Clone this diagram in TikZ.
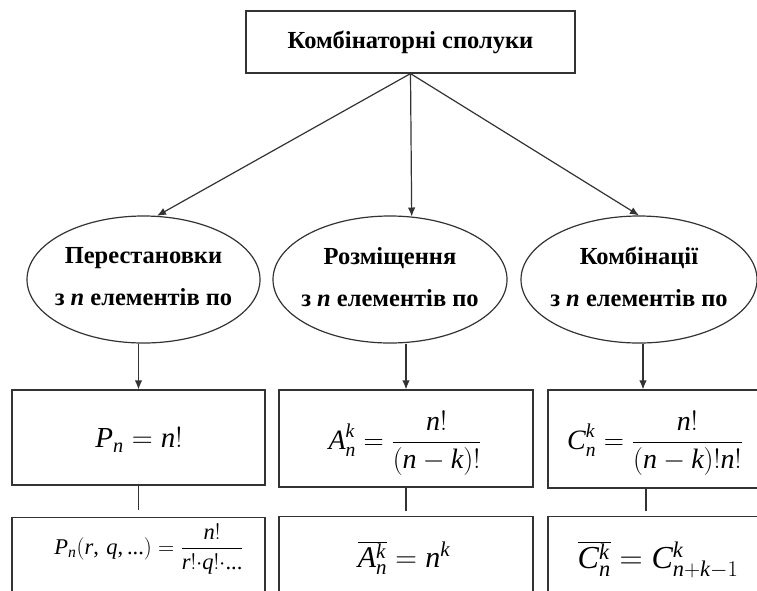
\RequirePackage{fix-cm}
\documentclass[tikz,border=0pt]{standalone}
\usepackage{fontspec}
\setmainfont{Liberation Serif}
\newfontfamily\mathtimes{Liberation Serif}[NFSSFamily=libserif]
\DeclareSymbolFont{letters}{TU}{libserif}{m}{it}
\DeclareSymbolFont{operators}{TU}{libserif}{m}{n}
\mathcode`,="602C
\mathcode`.="002E
\usetikzlibrary{shapes.geometric,arrows.meta}
\definecolor{ln}{HTML}{333333}
\tikzset{
  box/.style={draw=ln, line width=1.2pt, rectangle, inner sep=0pt},
  oval/.style={draw=ln, line width=1.2pt, ellipse, inner xsep=-14pt, inner ysep=0pt, minimum height=127pt, align=center,
    font=\fontsize{24.5}{42}\selectfont\bfseries},
  arr/.style={draw=ln, line width=1.2pt, -{Latex[length=9pt,width=7.5pt]}},
  conn/.style={draw=ln, line width=1.2pt},
  frm/.style={inner sep=0pt}
}
\begin{document}
\begin{tikzpicture}[x=1pt,y=1pt]
\clip (0,0) rectangle (757,-590);
\fill[white] (0,0) rectangle (757,-590);
% top
\node[box, minimum width=329pt, minimum height=62pt, font=\fontsize{24.5}{28}\selectfont\bfseries] (top) at (410.5,-42) {Комбінаторні сполуки};
% ellipses
\node[oval, minimum width=233pt, text depth=6pt] (e1) at (143.5,-279.5) {Перестановки\\з \textit{n} елементів по};
\node[oval, minimum width=234pt, text depth=6pt] (e2) at (390,-279.5) {Розміщення\\з \textit{n} елементів по};
\node[oval, minimum width=236pt, text depth=6pt] (e3) at (639,-279.5) {Комбінації\\з \textit{n} елементів по};
% first row boxes
\node[box, minimum width=253pt, minimum height=95pt] (b1) at (138.5,-437.5) {};
\node[box, minimum width=254pt, minimum height=97pt] (b2) at (406,-438.5) {};
\node[box, minimum width=254pt, minimum height=98pt] (b3) at (675,-439) {};
% second row boxes
\node[box, minimum width=253pt, minimum height=96pt, anchor=north] (b4) at (138.5,-517) {};
\node[box, minimum width=254pt, minimum height=96pt, anchor=north] (b5) at (406,-516) {};
\node[box, minimum width=254pt, minimum height=96pt, anchor=north] (b6) at (675,-516) {};
% formulas
\node[frm, font=\fontsize{29}{32}\selectfont] (f1) at (139,-440) {$P_{n} = n!$};
\node[frm, font=\fontsize{28}{32}\selectfont] (f2) at (405,-443) {$\displaystyle A_{n}^{k} = \frac{n!}{(n-k)!}$};
\node[frm, font=\fontsize{28}{32}\selectfont] (f3) at (655,-443) {$\displaystyle C_{n}^{k} =\frac{n!}{(n-k)!n!}$};
\node[frm, font=\fontsize{22.5}{26}\selectfont] (f4) at (149,-549) {$\displaystyle P_{n}(r,\,q,...) = \frac{n!}{r!{\cdot}q!{\cdot}...}$};
\node[frm, font=\fontsize{30}{34}\selectfont] (f5) at (404,-558) {$\overline{A_{n}^{k}} = n^{k}$};
\node[frm, font=\fontsize{32}{36}\selectfont] (f6) at (658,-560) {$\overline{C_{n}^{k}} = C_{n+k-1}^{k}$};
% connectors
\draw[arr] (top.south) -- (e1.78);
\draw[arr] (top.south) -- (e2.71);
\draw[arr] (top.south) -- (e3.north);
\draw[arr] (e1.south -| b1.north) -- (b1.north);
\draw[arr] (e2.south -| b2.north) -- (b2.north);
\draw[arr] ([xshift=4pt]e3.south) -- ([xshift=-32pt]b3.north);
\draw[conn] (b1.south) -- ([yshift=7pt]b4.north);
\draw[conn] (b2.south) -- ([yshift=5pt]b5.north);
\draw[conn] ([xshift=-29pt]b3.south) -- ([xshift=-29pt,yshift=5pt]b6.north);
\end{tikzpicture}
\end{document}
